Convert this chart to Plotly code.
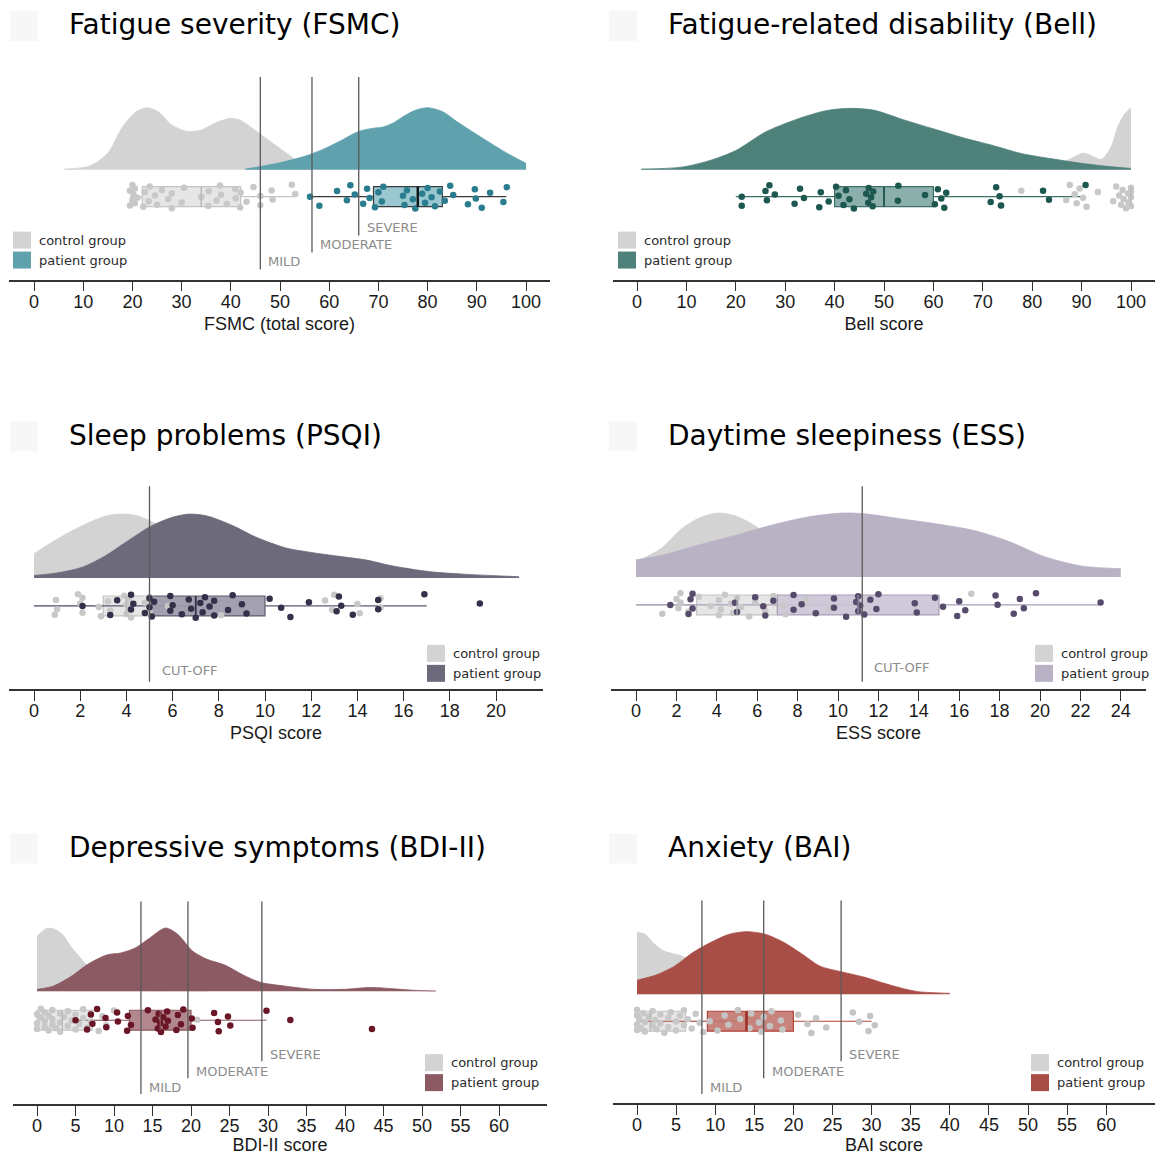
import plotly.graph_objects as go

OFF = 8                 # page body margin of the browser
W = H = 1163 - 2 * OFF

# ------------------------------------------------------------------ data
titles = ["Fatigue severity (FSMC)", "Fatigue-related disability (Bell)",
          "Sleep problems (PSQI)", "Daytime sleepiness (ESS)",
          "Depressive symptoms (BDI-II)", "Anxiety (BAI)"]
axis_titles = ["FSMC (total score)", "Bell score", "PSQI score", "ESS score",
               "BDI-II score", "BAI score"]
tick_vals = [list(range(0, 101, 10)), list(range(0, 101, 10)),
             list(range(0, 21, 2)), list(range(0, 25, 2)),
             list(range(0, 61, 5)), list(range(0, 61, 5))]
legend_labels = ["control group", "patient group"]

# density curves (relative density)
fsmc_ctrl_dx = [6.2, 11.4, 15, 18, 20.8, 23, 25.2, 28, 31, 34, 36.8, 39.7, 41.8, 44, 47, 51.3, 54.2, 56.5]
fsmc_ctrl_dy = [0.01, 0.06, 0.26, 0.67, 0.91, 0.97, 0.91, 0.70, 0.60, 0.62, 0.73, 0.80, 0.78, 0.67, 0.50, 0.26, 0.10, 0.01]
fsmc_pat_dx = [43, 46, 50, 55, 58.5, 62, 66, 69, 71, 73, 75, 77.5, 80, 83, 86, 90, 95, 98, 100]
fsmc_pat_dy = [0.01, 0.05, 0.11, 0.21, 0.31, 0.44, 0.60, 0.65, 0.67, 0.73, 0.83, 0.93, 0.97, 0.91, 0.75, 0.55, 0.31, 0.18, 0.10]

bell_ctrl_dx = [75, 80, 85, 88, 90.3, 92.5, 94, 96, 97.3, 98.8, 100]
bell_ctrl_dy = [0.02, 0.04, 0.08, 0.18, 0.26, 0.20, 0.16, 0.36, 0.67, 0.88, 0.97]
bell_pat_dx = [0.9, 9, 15, 20, 26, 32, 38, 42.6, 48, 54, 60, 66, 72, 78, 84, 90, 95.5, 100]
bell_pat_dy = [0.01, 0.04, 0.15, 0.30, 0.59, 0.78, 0.92, 0.96, 0.93, 0.78, 0.64, 0.50, 0.38, 0.25, 0.17, 0.10, 0.05, 0.02]

psqi_ctrl_dx = [0, 1, 2.1, 3.1, 3.8, 4.4, 5, 6, 7, 8, 10, 12, 13.5, 15, 16, 17]
psqi_ctrl_dy = [0.38, 0.61, 0.82, 0.97, 1.0, 0.98, 0.90, 0.70, 0.50, 0.35, 0.20, 0.15, 0.13, 0.08, 0.03, 0.01]
psqi_pat_dx = [0, 1, 2.1, 3.1, 4.1, 5, 5.9, 6.7, 7.5, 8.6, 9.6, 10.9, 12, 13.2, 14.4, 15.5, 17.1, 18.6, 21]
psqi_pat_dy = [0.04, 0.08, 0.17, 0.35, 0.59, 0.80, 0.94, 1.0, 0.97, 0.82, 0.64, 0.47, 0.40, 0.34, 0.28, 0.19, 0.10, 0.06, 0.02]

ess_ctrl_dx = [0.3, 1.3, 2.2, 3.1, 4, 4.9, 5.8, 6.7, 8, 10, 12, 14, 17]
ess_ctrl_dy = [0.28, 0.46, 0.74, 0.92, 1.0, 0.96, 0.82, 0.62, 0.40, 0.20, 0.10, 0.05, 0.01]
ess_pat_dx = [0, 1.3, 3.1, 4.9, 6.7, 8.5, 10.2, 11.3, 13.1, 14.9, 16.7, 18.5, 20.3, 22.1, 24]
ess_pat_dy = [0.27, 0.34, 0.50, 0.65, 0.81, 0.94, 1.0, 0.99, 0.91, 0.83, 0.73, 0.55, 0.31, 0.17, 0.13]

bdi_ctrl_dx = [0, 1.2, 2.1, 3.3, 4.4, 5.8, 6.7, 8, 10, 12, 15, 20, 22]
bdi_ctrl_dy = [0.86, 0.98, 0.98, 0.89, 0.70, 0.50, 0.38, 0.20, 0.08, 0.03, 0.01, 0.01, 0.0]
bdi_pat_dx = [0, 2.1, 4.4, 6.7, 9.1, 10.9, 12.8, 14.6, 16.7, 18.3, 20.2, 22.1, 24.4, 26.7, 29, 32.3, 36, 39.7, 43.4, 46.2, 49, 51.8]
bdi_pat_dy = [0.03, 0.08, 0.23, 0.43, 0.57, 0.60, 0.68, 0.83, 0.99, 0.89, 0.63, 0.50, 0.41, 0.26, 0.14, 0.08, 0.03, 0.03, 0.06, 0.04, 0.015, 0.005]

bai_ctrl_dx = [0, 1, 2.2, 3.4, 4.8, 5.7, 7, 9, 11, 14, 16]
bai_ctrl_dy = [0.97, 0.94, 0.79, 0.68, 0.63, 0.60, 0.50, 0.30, 0.15, 0.05, 0.01]
bai_pat_dx = [0, 2.4, 4.8, 7.1, 9.4, 11.8, 14, 16.4, 18.8, 21.1, 23.4, 26.2, 29, 31.4, 33.7, 36, 40]
bai_pat_dy = [0.22, 0.30, 0.44, 0.65, 0.81, 0.94, 0.98, 0.94, 0.81, 0.63, 0.44, 0.35, 0.27, 0.18, 0.10, 0.04, 0.015]

# individual scores
fsmc_ctrl_pts = [19.5, 19.5, 20, 20, 20.2, 20.5, 20.5, 21, 22.2, 22.5, 23.3, 23.5, 24.6, 25, 26, 27.3, 28, 28,
                 30, 30.5, 34, 35.4, 35.5, 37.1, 37.8, 38, 39.2, 40.9, 41, 41.9, 42, 43.2, 44.6, 46, 46, 48.3,
                 48.5, 52.4, 53.1]
fsmc_pat_pts = [56.1, 58, 61.6, 63.6, 64.3, 65.2, 66.9, 67.7, 68.2, 69.3, 70, 70.7, 71, 75, 75.3, 75.8, 77,
                77.5, 78.9, 79.5, 80, 80.8, 81.5, 82.5, 83.5, 84.6, 85.2, 88.2, 89.6, 89.8, 91, 92.7, 95.4, 96.1]
bell_ctrl_pts = [73.6, 77.8, 86.9, 87.6, 88.6, 89, 89.6, 90.3, 91, 93.3, 96.4, 97, 97.6, 98, 98.3, 98.5, 99,
                 99.4, 99.5, 100, 100, 100, 100]
bell_pat_pts = [21.2, 21.2, 26, 26.3, 26.8, 27.9, 31.9, 33, 33.8, 36.9, 37.2, 38.8, 40.3, 40.8, 41.8, 42.3,
                43, 43.9, 46.4, 46.8, 46.9, 47.4, 47.7, 47.8, 52.8, 52.9, 58.3, 60.3, 60.9, 61.6, 62.2, 62.6,
                71.6, 72.7, 73.4, 73.7, 82.2, 83.4, 90.8]
psqi_ctrl_pts = [0.9, 0.95, 1, 1.9, 2, 2.1, 2.1, 2.8, 2.9, 3.2, 3.3, 3.9, 4, 4, 4.1, 4.1, 4.2, 4.8, 5, 5, 5.8,
                 8.1, 12.6, 12.9, 13, 14, 14.1, 15, 15]
psqi_pat_pts = [2.1, 3.3, 3.6, 4.2, 4.2, 4.3, 4.8, 5, 5, 5.1, 5.2, 5.9, 5.9, 6, 6.4, 6.7, 6.8, 7, 7.2, 7.3,
                7.4, 7.6, 7.8, 7.8, 8.4, 8.6, 9, 9.2, 10.2, 10.7, 11.1, 11.9, 13.1, 13.2, 13.3, 13.8, 14.9,
                14.9, 16.9, 19.3]
ess_ctrl_pts = [1.3, 2, 2.1, 2.2, 2.2, 2.6, 3.1, 3.7, 4.1, 4.1, 4.2, 4.4, 4.7, 4.8, 5, 5.2, 5.6, 5.9, 6.4,
                6.8, 7.3, 7.4, 8.4, 9.6, 16.6]
ess_pat_pts = [1.7, 2.6, 2.7, 2.8, 2.8, 4.9, 5, 5.9, 6.3, 6.4, 6.8, 7.8, 7.8, 8.2, 8.9, 9.8, 9.8, 10.4, 10.9,
               11, 11, 11.1, 11.3, 11.6, 11.9, 12, 13.8, 13.9, 14.8, 15.2, 15.9, 16, 16.3, 17.8, 17.9, 18.7,
               19, 19.2, 19.8, 23]
bdi_ctrl_pts = [0, 0, 0, 0.5, 0.5, 1, 1, 1, 1.5, 1.5, 2, 2, 2, 2.5, 3, 3, 3, 3.5, 4, 4, 4.5, 5, 5, 5.5, 6, 6,
                6.5, 7, 7, 8, 8.5, 9, 10, 20.8]
bdi_pat_pts = [5, 6.5, 7, 7.2, 7.8, 8.9, 9, 10.4, 10.5, 11.7, 11.8, 12.2, 14.4, 15.4, 15.7, 15.8, 16, 16.1,
               16.4, 16.7, 16.9, 17, 18.1, 18.3, 18.7, 19, 20.1, 20.2, 23, 23.5, 23.6, 24.8, 25.1, 29.8, 32.9,
               43.5]
bai_ctrl_pts = [0, 0, 0, 0, 0.3, 0.5, 0.8, 1, 1, 1.5, 2, 2, 2.3, 2.5, 3, 3, 3.5, 4, 4, 4.3, 5, 5, 5.5, 6, 6,
                6.5, 7, 7.5, 8, 8.5]
bai_pat_pts = [9.3, 10.3, 11.2, 11.7, 12.9, 13.2, 14.4, 14.6, 15.6, 15.9, 16.2, 17, 17.2, 18.4, 18.6, 20.6,
               21.8, 22.3, 22.9, 24.2, 27.6, 28.4, 29.6, 29.8, 30.4]

# box statistics: [lower fence, q1, median, q3, upper fence]
fsmc_ctrl_box = [19.5, 22, 34, 42, 53]
fsmc_pat_box = [56, 69, 78, 83, 96]
bell_ctrl_box = [100, 100, 100, 100, 100]
bell_pat_box = [20, 40, 50, 60, 90]
psqi_ctrl_box = [0, 3, 4, 5, 7]
psqi_pat_box = [0, 5, 7, 10, 17]
ess_ctrl_box = [0, 3, 5, 7, 11]
ess_pat_box = [0, 7, 11, 15, 23]
bdi_ctrl_box = [0, 0, 3.3, 7.2, 10]
bdi_pat_box = [5, 12, 16, 20, 29.8]
bai_ctrl_box = [0, 0, 1.7, 6.2, 13]
bai_pat_box = [0, 9, 14, 20, 30]

# clinical thresholds
fsmc_cuts = [46, 56.5, 66]
bdi_cuts = [13.5, 19.6, 29.2]
bai_cuts = [8.3, 16.2, 26.1]
sev_labels = ["MILD", "MODERATE", "SEVERE"]
psqi_cuts = [5]
ess_cuts = [11.2]
cut_labels = ["CUT-OFF"]

# ------------------------------------------------------------------ styling / geometry
GREY = "#d3d3d3"
panels = [
    dict(L=9, R=550, x0=34, k=4.92, ax=280, base=110, boxc=83, tx=68, ty=25, lx=13, ly=232,
         ctrl=(fsmc_ctrl_dx, fsmc_ctrl_dy, fsmc_ctrl_pts, fsmc_ctrl_box),
         pat=(fsmc_pat_dx, fsmc_pat_dy, fsmc_pat_pts, fsmc_pat_box),
         col="#5fa2ae", pcol="#2a7d8e", bfill="rgba(120,180,192,0.75)", bline="#3a3a3a", med="#111111",
         mw=2.4, cuts=fsmc_cuts, labels=sev_labels, bots=[10, 27, 44], ldy=8, ldx=6),
    dict(L=613, R=1155, x0=637, k=4.94, ax=280, base=110, boxc=83, tx=667, ty=25, lx=618, ly=232,
         ctrl=(bell_ctrl_dx, bell_ctrl_dy, bell_ctrl_pts, bell_ctrl_box),
         pat=(bell_pat_dx, bell_pat_dy, bell_pat_pts, bell_pat_box),
         col="#4f817b", pcol="#1d5850", bfill="rgba(110,155,149,0.8)", bline="#3d6e67", med="#24554f",
         mw=1.8, cuts=[], labels=[], bots=[], ldy=0, ldx=0),
    dict(L=9, R=543, x0=34, k=23.1, ax=690, base=111, boxc=83, tx=68, ty=436, lx=427, ly=646,
         ctrl=(psqi_ctrl_dx, psqi_ctrl_dy, psqi_ctrl_pts, psqi_ctrl_box),
         pat=(psqi_pat_dx, psqi_pat_dy, psqi_pat_pts, psqi_pat_box),
         col="#6d6a7b", pcol="#34304a", bfill="rgba(140,137,156,0.8)", bline="#5e5b70", med="#35324a",
         mw=1.8, cuts=psqi_cuts, labels=cut_labels, bots=[7], ldy=11, ldx=10),
    dict(L=611, R=1146, x0=636, k=20.2, ax=690, base=112, boxc=84, tx=667, ty=436, lx=1035, ly=646,
         ctrl=(ess_ctrl_dx, ess_ctrl_dy, ess_ctrl_pts, ess_ctrl_box),
         pat=(ess_pat_dx, ess_pat_dy, ess_pat_pts, ess_pat_box),
         col="#b9b1c4", pcol="#574b6c", bfill="rgba(200,192,210,0.85)", bline="#a89fb6", med="#8a8098",
         mw=1.5, cuts=ess_cuts, labels=cut_labels, bots=[7], ldy=14, ldx=10),
    dict(L=13, R=547, x0=37, k=7.7, ax=1106, base=113, boxc=84, tx=68, ty=849, lx=425, ly=1056,
         ctrl=(bdi_ctrl_dx, bdi_ctrl_dy, bdi_ctrl_pts, bdi_ctrl_box),
         pat=(bdi_pat_dx, bdi_pat_dy, bdi_pat_pts, bdi_pat_box),
         col="#8b5a63", pcol="#6b1626", bfill="rgba(160,105,114,0.8)", bline="#8b5a63", med="#8b5a63",
         mw=1.2, cuts=bdi_cuts, labels=sev_labels, bots=[10, 26, 43], ldy=7, ldx=6),
    dict(L=613, R=1155, x0=637, k=7.82, ax=1105, base=109, boxc=82, tx=667, ty=849, lx=1031, ly=1056,
         ctrl=(bai_ctrl_dx, bai_ctrl_dy, bai_ctrl_pts, bai_ctrl_box),
         pat=(bai_pat_dx, bai_pat_dy, bai_pat_pts, bai_pat_box),
         col="#a94e47", pcol="#c4c4c4", bfill="rgba(178,78,70,0.7)", bline="#b3443b", med="#9b2a22",
         mw=2.4, cuts=bai_cuts, labels=sev_labels, bots=[9, 25, 42], ldy=7, ldx=6),
]

PLOT_H = 215      # px of plot area above the axis line
PEAK = 64         # px for relative density 1.0
JIT = 12          # px half-spread of the points
LINE_TOP = 203


def PX(x):        # page pixel -> paper x
    return min(1.0, max(0.0, (x - OFF) / W))


def PY(y):        # page pixel -> paper y
    return min(1.0, max(0.0, 1 - (y - OFF) / H))


fig = go.Figure()
layout = dict(width=W, height=H, margin=dict(l=0, r=0, t=0, b=0),
              paper_bgcolor="white", plot_bgcolor="rgba(0,0,0,0)", showlegend=False,
              annotations=[], shapes=[])


def jitter(n, seed):
    return [((i * 0.6180339 + seed) % 1.0 - 0.5) * 2 * JIT for i in range(n)]


for i, p in enumerate(panels):
    n = i + 1
    xa, ya = f"x{n}", f"y{n}"
    xr = [(p["L"] - p["x0"]) / p["k"], (p["R"] - p["x0"]) / p["k"]]
    layout[f"xaxis{n}"] = dict(
        domain=[PX(p["L"]), PX(p["R"])], range=xr, anchor=ya,
        tickmode="array", tickvals=tick_vals[i], ticks="outside", ticklen=10, tickwidth=1.2,
        tickcolor="#333", showline=True, linecolor="#333", linewidth=1.6, showgrid=False,
        zeroline=False, fixedrange=True, ticklabelstandoff=-5,
        tickfont=dict(family="Liberation Sans, Arial", size=18, color="#1a1a1a"),
        title=dict(text=axis_titles[i], standoff=6,
                   font=dict(family="Liberation Sans, Arial", size=18, color="#1a1a1a")))
    layout[f"yaxis{n}"] = dict(
        domain=[PY(p["ax"]), PY(p["ax"] - PLOT_H)], range=[0, PLOT_H],
        anchor=xa, visible=False, fixedrange=True)

    groups = [("ctrl", GREY, "#c8c8c8", "rgba(222,222,222,0.75)", "#c4c4c4", "#b8b8b8", 1.2),
              ("pat", p["col"], p["pcol"], p["bfill"], p["bline"], p["med"], p["mw"])]

    # densities
    for key, dcol, *_ in groups:
        dx, dy, _, _ = p[key]
        fig.add_trace(go.Scatter(x=[dx[0], dx[-1]], y=[p["base"], p["base"]], mode="lines",
                                 line=dict(width=0, color=dcol), hoverinfo="skip",
                                 xaxis=xa, yaxis=ya))
        fig.add_trace(go.Scatter(x=dx, y=[p["base"] + v * PEAK for v in dy], mode="lines",
                                 line=dict(width=0.8, color=dcol, shape="spline", smoothing=0.8),
                                 fill="tonexty", fillcolor=dcol, hoverinfo="skip",
                                 xaxis=xa, yaxis=ya))

    # points
    for gi, (key, dcol, ptcol, bfill, bline, med, mw) in enumerate(groups):
        _, _, pts, bx = p[key]
        fig.add_trace(go.Scatter(x=pts, y=[p["boxc"] + o for o in jitter(len(pts), 0.13 + 0.37 * gi)],
                                 mode="markers", marker=dict(size=6.5, color=ptcol, line=dict(width=0)),
                                 hoverinfo="skip", xaxis=xa, yaxis=ya))
    # boxes
    for gi, (key, dcol, ptcol, bfill, bline, med, mw) in enumerate(groups):
        _, _, pts, bx = p[key]
        fig.add_trace(go.Box(y=[p["boxc"]], lowerfence=[bx[0]], q1=[bx[1]], median=[bx[2]],
                             q3=[bx[3]], upperfence=[bx[4]], orientation="h", width=20,
                             whiskerwidth=0, boxpoints=False, fillcolor=bfill,
                             line=dict(color=bline, width=1.2), hoverinfo="skip",
                             xaxis=xa, yaxis=ya))
        fig.add_trace(go.Scatter(x=[bx[2], bx[2]], y=[p["boxc"] - 10, p["boxc"] + 10], mode="lines",
                                 line=dict(color=med, width=mw),
                                 hoverinfo="skip", xaxis=xa, yaxis=ya))

    # thresholds
    for c, lab, bot in zip(p["cuts"], p["labels"], p["bots"]):
        fig.add_trace(go.Scatter(x=[c, c], y=[bot, LINE_TOP], mode="lines",
                                 line=dict(color="#5a5a5a", width=1.3), hoverinfo="skip",
                                 xaxis=xa, yaxis=ya))
        layout["annotations"].append(dict(
            x=c, y=bot + p["ldy"], xref=xa, yref=ya, text=lab, showarrow=False,
            xanchor="left", yanchor="middle", xshift=p["ldx"],
            font=dict(family="DejaVu Sans", size=13, color="#8c8c8c")))

    # title
    layout["annotations"].append(dict(
        x=PX(p["tx"]), y=PY(p["ty"]), xref="paper", yref="paper", text=titles[i],
        showarrow=False, xanchor="left", yanchor="middle", borderpad=0,
        font=dict(family="DejaVu Sans", size=28, color="#000")))
    # faint corner tile
    layout["shapes"].append(dict(type="rect", xref="paper", yref="paper",
                                 x0=PX(p["tx"] - 58), x1=PX(p["tx"] - 30),
                                 y0=PY(p["ty"] + 16), y1=PY(p["ty"] - 14),
                                 fillcolor="#f7f7f7", line=dict(width=0), layer="below"))
    # legend
    for li, (lab, lc) in enumerate(zip(legend_labels, [GREY, p["col"]])):
        y0 = p["ly"] + li * 20
        layout["shapes"].append(dict(type="rect", xref="paper", yref="paper",
                                     x0=PX(p["lx"]), x1=PX(p["lx"] + 18),
                                     y0=PY(y0 + 17), y1=PY(y0),
                                     fillcolor=lc, line=dict(width=0)))
        layout["annotations"].append(dict(
            x=PX(p["lx"] + 24), y=PY(y0 + 8.5), xref="paper", yref="paper", text=lab,
            showarrow=False, xanchor="left", yanchor="middle",
            font=dict(family="DejaVu Sans", size=13, color="#2a2a2a")))

fig.update_layout(**layout)
fig.write_html("out.html")
